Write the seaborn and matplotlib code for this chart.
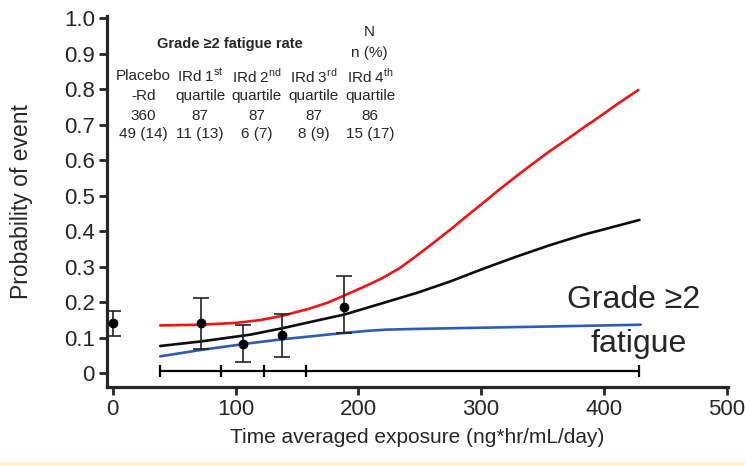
import numpy as np
import pandas as pd
import matplotlib
matplotlib.use("Agg")
import matplotlib.pyplot as plt
import seaborn as sns

# model curves (probability of grade >=2 fatigue vs exposure)
red_x = [38.6, 72, 100, 120, 138, 160, 175, 189, 206, 220, 234, 247, 261, 275, 288, 302, 315,
         329, 342, 356, 370, 383, 397, 410, 428]
red_y = [0.135, 0.137, 0.142, 0.150, 0.162, 0.182, 0.199, 0.220, 0.246, 0.269, 0.297, 0.330, 0.367,
         0.405, 0.442, 0.481, 0.518, 0.556, 0.590, 0.626, 0.659, 0.691, 0.724, 0.756, 0.798]
black_x = [38.6, 72, 112, 138, 160, 189, 220, 248, 275, 302, 329, 356, 383, 406, 429]
black_y = [0.077, 0.090, 0.109, 0.127, 0.144, 0.166, 0.198, 0.227, 0.259, 0.295, 0.329, 0.361, 0.390, 0.411, 0.432]
blue_x = [38.6, 72, 112, 138, 189, 205, 222, 245, 275, 356, 430]
blue_y = [0.048, 0.066, 0.085, 0.096, 0.114, 0.119, 0.123, 0.125, 0.127, 0.132, 0.137]

# observed rates with CI
obs_x = [0, 72, 106, 138, 188.5]
obs_y = [0.143, 0.141, 0.083, 0.108, 0.188]
obs_lo = [0.104, 0.070, 0.032, 0.047, 0.113]
obs_hi = [0.177, 0.213, 0.136, 0.168, 0.273]

# exposure quartile boundaries
quart_x = [38.6, 88, 123, 157.5, 428.8]

col_top = ["Placebo", r"IRd 1$^{\mathrm{st}}$", r"IRd 2$^{\mathrm{nd}}$", r"IRd 3$^{\mathrm{rd}}$", r"IRd 4$^{\mathrm{th}}$"]
col_bot = ["-Rd", "quartile", "quartile", "quartile", "quartile"]
col_n = ["360", "87", "87", "87", "86"]
col_rate = ["49 (14)", "11 (13)", "6 (7)", "8 (9)", "15 (17)"]

sns.set_style("ticks")
plt.rcParams["font.family"] = ["Liberation Sans", "DejaVu Sans"]
plt.rcParams["mathtext.fontset"] = "custom"
plt.rcParams["mathtext.rm"] = "Liberation Sans"

fig = plt.figure(figsize=(7.45, 4.66), dpi=100)
ax = fig.add_axes([0.144, 0.1706, 0.833, 0.794])

curves = pd.concat([
    pd.DataFrame({"x": red_x, "y": red_y, "c": "red"}),
    pd.DataFrame({"x": black_x, "y": black_y, "c": "black"}),
    pd.DataFrame({"x": blue_x, "y": blue_y, "c": "blue"}),
])
sns.lineplot(data=curves, x="x", y="y", hue="c",
             palette={"red": "#f01414", "black": "#0d0d0d", "blue": "#2c5cb6"},
             linewidth=1.9, legend=False, ax=ax)

yerr = [np.array(obs_y) - np.array(obs_lo), np.array(obs_hi) - np.array(obs_y)]
ax.errorbar(obs_x, obs_y, yerr=yerr, fmt="none", ecolor="#222222", elinewidth=1.2, capsize=6, capthick=1.2)
sns.scatterplot(x=obs_x, y=obs_y, color="black", s=42, edgecolor="black", ax=ax, zorder=5)

ax.plot(quart_x, [0.007] * len(quart_x), color="black", lw=1.6, marker="|", markersize=9, mew=1.6)

ax.set_xlim(-4.5, 501)
ax.set_ylim(-0.037, 1.005)
ax.set_xticks([0, 100, 200, 300, 400, 500])
ax.set_yticks(np.arange(0, 1.01, 0.1))
ax.set_yticklabels(["0"] + [f"{v:.1f}" for v in np.arange(0.1, 1.01, 0.1)])
ax.tick_params(axis="both", labelsize=16, width=2, length=6, direction="out", pad=3)
for s in ["left", "bottom"]:
    ax.spines[s].set_linewidth(2.3)
sns.despine(ax=ax)
ax.set_xlabel("Time averaged exposure (ng*hr/mL/day)", fontsize=15, labelpad=6)
ax.set_ylabel("Probability of event", fontsize=16.5)
ax.yaxis.set_label_coords(-0.12, 0.5)

# table text
ax.text(95.5, 0.927, "Grade ≥2 fatigue rate", ha="center", va="center", fontsize=10.5, fontweight="bold")
ax.text(209, 0.96, "N", ha="center", va="center", fontsize=11)
ax.text(209, 0.903, "n (%)", ha="center", va="center", fontsize=11)
col_x = [24.9, 71.1, 117.3, 163.4, 209.5]
for cx, top, bot, n, r in zip(col_x, col_top, col_bot, col_n, col_rate):
    ax.text(cx, 0.837, top, ha="center", va="center", fontsize=11)
    ax.text(cx, 0.781, bot, ha="center", va="center", fontsize=11)
    ax.text(cx, 0.724, n, ha="center", va="center", fontsize=11)
    ax.text(cx, 0.673, r, ha="center", va="center", fontsize=11)

ax.text(424, 0.184, "Grade ≥2", ha="center", va="baseline", fontsize=23)
ax.text(428, 0.061, "fatigue", ha="center", va="baseline", fontsize=23)

fig.patches.append(plt.Rectangle((0, 0), 1, 0.009, transform=fig.transFigure, color="#fdf3d0", zorder=0))

fig.savefig("out.png", dpi=100)
